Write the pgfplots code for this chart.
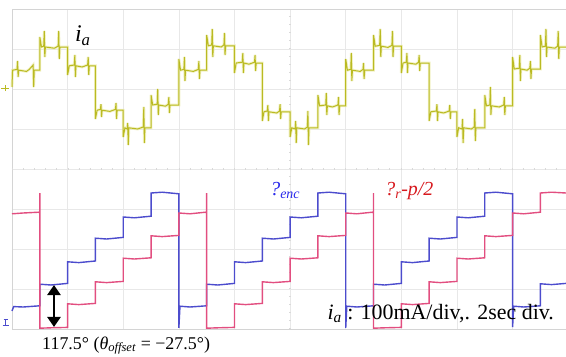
\documentclass[border=0pt]{standalone}
\usepackage{fontspec}
\setmainfont{Liberation Serif}
\usepackage{pgfplots}
\usepackage{pgfplotstable}
\pgfplotsset{compat=1.18}
\usetikzlibrary{arrows.meta}

\definecolor{scopeyellow}{RGB}{186,186,34}
\definecolor{yellowhalo}{RGB}{236,236,170}
\definecolor{encblue}{RGB}{76,76,205}
\definecolor{rotred}{RGB}{226,78,128}
\definecolor{labelblue}{RGB}{40,40,235}
\definecolor{labelred}{RGB}{215,25,30}
\definecolor{gridgray}{RGB}{232,232,232}
\definecolor{bordergray}{RGB}{212,212,212}

% phase current i_a (channel 1), x in divisions, y in divisions
\pgfplotstableread[row sep=\\]{
x y\\
0 6.05\\ 0.01 6.47\\ 0.09 6.49\\ 0.10 6.7\\ 0.11 6.3\\ 0.12 6.47\\ 0.26 6.44\\ 0.31 6.49\\ 0.38 6.6\\ 0.39 6.05\\ 0.40 6.47\\ 0.5 6.47\\
0.5 7.3\\ 0.53 7.05\\ 0.57 7.07\\ 0.58 7.45\\ 0.59 6.8\\ 0.60 7.05\\ 0.76 7.02\\ 0.83 7.07\\ 0.84 7.45\\ 0.85 6.75\\ 0.86 7.05\\ 1.0 7.05\\
1.0 6.35\\ 1.03 6.58\\ 1.12 6.6\\ 1.13 6.85\\ 1.14 6.3\\ 1.15 6.58\\ 1.26 6.55\\ 1.36 6.6\\ 1.37 6.8\\ 1.38 6.35\\ 1.39 6.58\\ 1.5 6.58\\
1.5 5.25\\ 1.53 5.47\\ 1.59 5.49\\ 1.60 5.62\\ 1.61 5.3\\ 1.62 5.47\\ 1.76 5.44\\ 1.86 5.49\\ 1.87 5.65\\ 1.88 5.25\\ 1.89 5.47\\ 2.0 5.47\\
2.0 4.8\\ 2.03 5.03\\ 2.07 5.0\\ 2.08 5.15\\ 2.09 4.6\\ 2.10 5.03\\ 2.26 5.0\\ 2.36 5.05\\ 2.37 5.55\\ 2.38 4.65\\ 2.39 5.03\\ 2.5 5.03\\
2.5 5.85\\ 2.53 5.6\\ 2.61 5.62\\ 2.62 6.0\\ 2.63 5.35\\ 2.64 5.6\\ 2.76 5.57\\ 2.81 5.62\\ 2.82 5.8\\ 2.83 5.4\\ 2.84 5.6\\ 3.0 5.6\\
3.0 6.75\\ 3.03 6.47\\ 3.09 6.49\\ 3.10 6.8\\ 3.11 6.2\\ 3.12 6.47\\ 3.26 6.44\\ 3.35 6.49\\ 3.36 6.7\\ 3.37 6.25\\ 3.38 6.47\\ 3.5 6.47\\
3.5 7.35\\ 3.53 7.08\\ 3.59 7.1\\ 3.60 7.5\\ 3.61 6.8\\ 3.62 7.08\\ 3.76 7.05\\ 3.81 7.1\\ 3.82 7.4\\ 3.83 6.85\\ 3.84 7.08\\ 4.0 7.08\\
4.0 6.4\\ 4.03 6.65\\ 4.14 6.67\\ 4.15 6.9\\ 4.16 6.4\\ 4.17 6.65\\ 4.26 6.62\\ 4.36 6.67\\ 4.37 6.85\\ 4.38 6.45\\ 4.39 6.65\\ 4.5 6.65\\
4.5 5.2\\ 4.53 5.43\\ 4.59 5.45\\ 4.60 5.6\\ 4.61 5.2\\ 4.62 5.43\\ 4.76 5.4\\ 4.81 5.45\\ 4.82 5.62\\ 4.83 5.25\\ 4.84 5.43\\ 5.0 5.43\\
5.0 4.8\\ 5.03 5.03\\ 5.09 5.0\\ 5.10 5.2\\ 5.11 4.65\\ 5.12 5.03\\ 5.26 5.0\\ 5.31 5.05\\ 5.32 5.45\\ 5.33 4.6\\ 5.34 5.03\\ 5.5 5.03\\
5.5 5.85\\ 5.53 5.58\\ 5.64 5.6\\ 5.65 5.9\\ 5.66 5.35\\ 5.67 5.58\\ 5.76 5.55\\ 5.86 5.6\\ 5.87 5.8\\ 5.88 5.35\\ 5.89 5.58\\ 6.0 5.58\\
6.0 6.75\\ 6.03 6.47\\ 6.09 6.49\\ 6.10 6.9\\ 6.11 6.2\\ 6.12 6.47\\ 6.26 6.44\\ 6.31 6.49\\ 6.32 6.65\\ 6.33 6.25\\ 6.34 6.47\\ 6.5 6.47\\
6.5 7.35\\ 6.53 7.07\\ 6.61 7.09\\ 6.62 7.5\\ 6.63 6.8\\ 6.64 7.07\\ 6.76 7.04\\ 6.83 7.09\\ 6.84 7.45\\ 6.85 6.8\\ 6.86 7.07\\ 7.0 7.07\\
7.0 6.4\\ 7.03 6.65\\ 7.09 6.67\\ 7.10 6.9\\ 7.11 6.4\\ 7.12 6.65\\ 7.26 6.62\\ 7.31 6.67\\ 7.32 6.85\\ 7.33 6.45\\ 7.34 6.65\\ 7.5 6.65\\
7.5 5.2\\ 7.53 5.43\\ 7.63 5.45\\ 7.64 5.62\\ 7.65 5.2\\ 7.66 5.43\\ 7.76 5.4\\ 7.86 5.45\\ 7.87 5.6\\ 7.88 5.25\\ 7.89 5.43\\ 8.0 5.43\\
8.0 4.8\\ 8.03 5.03\\ 8.09 5.0\\ 8.10 5.25\\ 8.11 4.65\\ 8.12 5.03\\ 8.26 5.0\\ 8.31 5.05\\ 8.32 5.5\\ 8.33 4.7\\ 8.34 5.03\\ 8.5 5.03\\
8.5 5.85\\ 8.53 5.58\\ 8.59 5.6\\ 8.60 6.05\\ 8.61 5.35\\ 8.62 5.58\\ 8.76 5.55\\ 8.84 5.6\\ 8.85 5.8\\ 8.86 5.35\\ 8.87 5.58\\ 9.0 5.58\\
9.0 6.8\\ 9.03 6.5\\ 9.12 6.52\\ 9.13 6.85\\ 9.14 6.2\\ 9.15 6.5\\ 9.26 6.47\\ 9.31 6.52\\ 9.32 6.7\\ 9.33 6.25\\ 9.34 6.5\\ 9.5 6.5\\
9.5 7.35\\ 9.53 7.05\\ 9.59 7.07\\ 9.60 7.5\\ 9.61 6.8\\ 9.62 7.05\\ 9.76 7.02\\ 9.81 7.07\\ 9.82 7.45\\ 9.83 6.75\\ 9.84 7.05\\ 9.96 7.05\\
}\currenttrace

% encoder angle (channel 2)
\pgfplotstableread[row sep=\\]{
x y\\
0 0.45\\ 0.03 0.56\\ 0.2 0.55\\ 0.5 0.58\\ 0.5 1.12\\ 0.7 1.1\\ 1.0 1.14\\ 1.0 1.68\\ 1.2 1.66\\ 1.5 1.7\\
1.5 2.27\\ 1.7 2.25\\ 2.0 2.29\\ 2.0 2.8\\ 2.2 2.78\\ 2.5 2.82\\ 2.5 3.4\\ 2.7 3.42\\ 3.0 3.38\\ 3.0 0.03\\
3.02 0.57\\ 3.2 0.55\\ 3.5 0.58\\ 3.5 1.12\\ 3.7 1.1\\ 4.0 1.14\\ 4.0 1.68\\ 4.2 1.66\\ 4.5 1.7\\ 4.5 2.27\\
4.7 2.25\\ 5.0 2.29\\ 5.0 2.8\\ 5.2 2.78\\ 5.5 2.82\\ 5.5 3.4\\ 5.7 3.42\\ 6.0 3.38\\ 6.0 0.03\\ 6.02 0.57\\
6.2 0.55\\ 6.5 0.58\\ 6.5 1.12\\ 6.7 1.1\\ 7.0 1.14\\ 7.0 1.68\\ 7.2 1.66\\ 7.5 1.7\\ 7.5 2.27\\ 7.7 2.25\\
8.0 2.29\\ 8.0 2.8\\ 8.2 2.78\\ 8.5 2.82\\ 8.5 3.4\\ 8.7 3.42\\ 9.0 3.38\\ 9.0 0.05\\ 9.02 0.57\\ 9.2 0.55\\
9.5 0.58\\ 9.5 1.13\\ 9.7 1.11\\ 9.96 1.14\\
}\enctrace

% rotor angle minus pi/2 (channel 3)
\pgfplotstableread[row sep=\\]{
x y\\
0 2.88\\ 0.2 2.9\\ 0.48 2.92\\ 0.5 2.9\\ 0.5 3.4\\ 0.5 0.02\\ 0.7 0.03\\ 1.0 0.04\\ 1.0 0.63\\ 1.2 0.61\\
1.5 0.64\\ 1.5 1.18\\ 1.7 1.16\\ 2.0 1.19\\ 2.0 1.77\\ 2.2 1.75\\ 2.5 1.78\\ 2.5 2.33\\ 2.7 2.31\\ 3.0 2.34\\
3.0 2.9\\ 3.2 2.88\\ 3.48 2.92\\ 3.5 2.9\\ 3.5 3.4\\ 3.5 0.02\\ 3.7 0.03\\ 4.0 0.04\\ 4.0 0.63\\ 4.2 0.61\\
4.5 0.64\\ 4.5 1.18\\ 4.7 1.16\\ 5.0 1.19\\ 5.0 1.77\\ 5.2 1.75\\ 5.5 1.78\\ 5.5 2.33\\ 5.7 2.31\\ 6.0 2.34\\
6.0 2.9\\ 6.2 2.88\\ 6.48 2.92\\ 6.5 2.9\\ 6.5 3.4\\ 6.5 0.02\\ 6.7 0.03\\ 7.0 0.04\\ 7.0 0.63\\ 7.2 0.61\\
7.5 0.64\\ 7.5 1.18\\ 7.7 1.16\\ 8.0 1.19\\ 8.0 1.77\\ 8.2 1.75\\ 8.5 1.78\\ 8.5 2.33\\ 8.7 2.31\\ 9.0 2.34\\
9.0 2.9\\ 9.2 2.88\\ 9.5 2.92\\ 9.5 3.4\\ 9.7 3.42\\ 9.96 3.4\\
}\rotortrace

\begin{document}
\begin{tikzpicture}
\useasboundingbox (-12bp,-28bp) rectangle (554bp,329bp);
\begin{axis}[
  at={(0,0)}, anchor=south west,
  scale only axis, width=554bp, height=320bp,
  xmin=0, xmax=9.96, ymin=0, ymax=8,
  axis line style={draw=none},
  xtick={0,...,9}, ytick={0,...,8},
  xticklabels={}, yticklabels={},
  major tick length=0pt,
  grid=major, grid style={gridgray, line width=0.6bp},
  clip=false,
]
% screen border and centre graticule with minor divisions
\draw[bordergray, line width=0.8bp] (axis cs:9.96,8) -- (axis cs:0,8) -- (axis cs:0,0) -- (axis cs:9.96,0);
\draw[gray!30, line width=2.5bp, dash pattern=on 0.6bp off 10.5bp] (axis cs:0,4) -- (axis cs:9.96,4);
\draw[gray!30, line width=2.5bp, dash pattern=on 0.6bp off 7.4bp] (axis cs:5,0) -- (axis cs:5,8);

% channel 1: phase current
\addplot[yellowhalo, line width=2.8bp, opacity=0.7] table[x=x, y=y] {\currenttrace};
\addplot[scopeyellow, line width=1bp] table[x=x, y=y] {\currenttrace};

% channels 2 and 3: encoder and rotor angles
\addplot[encblue, line width=1.4bp] table[x=x, y=y] {\enctrace};
\addplot[rotred, line width=1.4bp] table[x=x, y=y] {\rotortrace};

% ground markers
\draw[scopeyellow, line width=0.8bp] (axis cs:-0.19,6.02) -- (axis cs:-0.05,6.02);
\draw[scopeyellow, line width=0.8bp] (axis cs:-0.12,5.95) -- (axis cs:-0.12,6.1);
\draw[encblue, line width=0.8bp] (axis cs:-0.17,0.1) -- (axis cs:-0.05,0.1);
\draw[encblue, line width=0.8bp] (axis cs:-0.11,0.1) -- (axis cs:-0.11,0.25);
\draw[encblue, line width=0.8bp] (axis cs:-0.15,0.25) -- (axis cs:-0.07,0.25);

% offset arrow
\draw[black, line width=2.4bp, {Triangle[width=13bp,length=10bp]}-{Triangle[width=13bp,length=10bp]}]
  (axis cs:0.755,0.05) -- (axis cs:0.755,1.1);

% labels
\node[anchor=base west, inner sep=0pt, font=\fontsize{24}{28}\selectfont] at (axis cs:1.13,7.18)
  {\textit{i}\textsubscript{\textit{a}}};
\node[anchor=base west, inner sep=0pt, text=labelblue, font=\fontsize{20}{24}\selectfont] at (axis cs:4.64,3.33)
  {\textit{?}\textsubscript{\textit{enc}}};
\node[anchor=base west, inner sep=0pt, text=labelred, font=\fontsize{20}{24}\selectfont] at (axis cs:6.71,3.33)
  {\textit{?}\textsubscript{\textit{r}}\textit{-p/2}};
\node[anchor=base west, inner sep=0pt, font=\fontsize{22}{26}\selectfont] at (axis cs:5.67,0.25)
  {\textit{i}\textsubscript{\textit{a}} : 100mA/div,. 2sec div.};
\node[anchor=base west, inner sep=0pt, font=\fontsize{18}{22}\selectfont] at (axis cs:0.54,-0.5)
  {117.5° (\textit{θ}\textsubscript{\textit{offset}} = −27.5°)};
\end{axis}
\end{tikzpicture}
\end{document}
